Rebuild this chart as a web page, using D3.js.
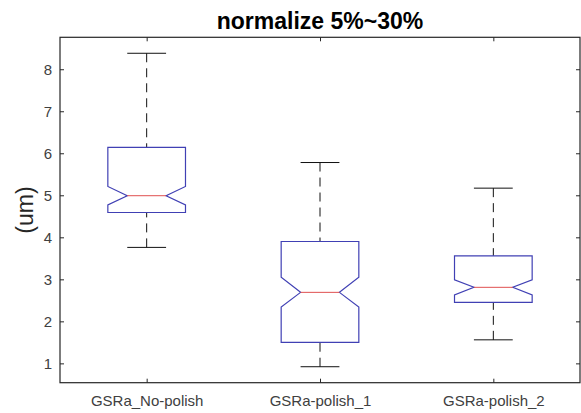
<!DOCTYPE html>
<html>
<head>
    <meta charset="UTF-8">
    <title>normalize 5%~30%</title>
    <script src="https://d3js.org/d3.v7.min.js"></script>
    <style>
        body { margin: 0; background: #fff; }
        text { font-family: "Liberation Sans", Arial, sans-serif; }
    </style>
</head>
<body>
    <svg id="chart"></svg>

    <script>
    // values
    const categories = ["GSRa_No-polish", "GSRa-polish_1", "GSRa-polish_2"];
    const whiskerLow  = [3.76, 0.92, 1.56];
    const q1          = [4.59, 1.50, 2.45];
    const notchLow    = [4.77, 2.34, 2.63];
    const medians     = [4.99, 2.69, 2.81];
    const notchHigh   = [5.21, 3.05, 2.99];
    const q3          = [6.14, 3.90, 3.56];
    const whiskerHigh = [8.38, 5.78, 5.17];
    const yTicks = [1, 2, 3, 4, 5, 6, 7, 8];

    const width = 581;
    const height = 413;
    const margins = {top: 37.3, bottom: 30.3, left: 60, right: 1};

    const svg = d3.select("#chart")
        .attr("width", width)
        .attr("height", height);

    const x_scale = d3.scalePoint()
        .domain(categories)
        .range([margins.left, width - margins.right])
        .padding(0.5);

    const y_scale = d3.scaleLinear()
        .domain([0.54, 8.76])
        .range([height - margins.bottom, margins.top]);

    const step = x_scale.step();
    const halfW = step * 0.224;   // half box width
    const axisColor = "#262626";

    const data = categories.map((c, i) => ({
        cat: c, lo: whiskerLow[i], q1: q1[i], nlo: notchLow[i], med: medians[i],
        nhi: notchHigh[i], q3: q3[i], hi: whiskerHigh[i]
    }));

    // axes with ticks pointing inward
    const leftAxis = svg.append("g")
        .attr("transform", `translate(${margins.left},0)`)
        .call(d3.axisLeft(y_scale).tickValues(yTicks).tickSize(-4).tickPadding(8));
    const rightAxis = svg.append("g")
        .attr("transform", `translate(${width - margins.right},0)`)
        .call(d3.axisRight(y_scale).tickValues(yTicks).tickSize(-4).tickFormat(""));
    const bottomAxis = svg.append("g")
        .attr("transform", `translate(0,${height - margins.bottom})`)
        .call(d3.axisBottom(x_scale).tickSize(-4).tickPadding(13));
    const topAxis = svg.append("g")
        .attr("transform", `translate(0,${margins.top})`)
        .call(d3.axisTop(x_scale).tickSize(-4).tickFormat(""));

    [leftAxis, rightAxis, bottomAxis, topAxis].forEach(g => {
        g.select(".domain").remove();
        g.selectAll(".tick line").attr("stroke", axisColor);
        g.selectAll(".tick text")
            .attr("fill", "#404040")
            .style("font-size", "15px")
            .style("font-family", "'Liberation Sans', Arial, sans-serif");
    });

    // frame
    svg.append("rect")
        .attr("x", margins.left)
        .attr("y", margins.top)
        .attr("width", width - margins.right - margins.left)
        .attr("height", height - margins.bottom - margins.top)
        .attr("fill", "none")
        .attr("stroke", axisColor)
        .attr("stroke-width", 1.2);

    const box = svg.append("g").selectAll("g")
        .data(data)
        .enter()
        .append("g");

    // dashed whiskers
    box.append("line")
        .attr("x1", d => x_scale(d.cat)).attr("x2", d => x_scale(d.cat))
        .attr("y1", d => y_scale(d.hi)).attr("y2", d => y_scale(d.q3))
        .attr("stroke", "#111").attr("stroke-dasharray", "9,6");
    box.append("line")
        .attr("x1", d => x_scale(d.cat)).attr("x2", d => x_scale(d.cat))
        .attr("y1", d => y_scale(d.lo)).attr("y2", d => y_scale(d.q1))
        .attr("stroke", "#111").attr("stroke-dasharray", "9,6");

    // whisker caps
    ["hi", "lo"].forEach(k => {
        box.append("line")
            .attr("x1", d => x_scale(d.cat) - halfW / 2)
            .attr("x2", d => x_scale(d.cat) + halfW / 2)
            .attr("y1", d => y_scale(d[k])).attr("y2", d => y_scale(d[k]))
            .attr("stroke", "#111");
    });

    // notched boxes
    box.append("path")
        .attr("d", d => {
            const c = x_scale(d.cat);
            const pts = [
                [c - halfW, y_scale(d.q3)], [c + halfW, y_scale(d.q3)],
                [c + halfW, y_scale(d.nhi)], [c + halfW / 2, y_scale(d.med)],
                [c + halfW, y_scale(d.nlo)], [c + halfW, y_scale(d.q1)],
                [c - halfW, y_scale(d.q1)], [c - halfW, y_scale(d.nlo)],
                [c - halfW / 2, y_scale(d.med)], [c - halfW, y_scale(d.nhi)]
            ];
            return "M" + pts.map(p => p.join(",")).join("L") + "Z";
        })
        .attr("fill", "none")
        .attr("stroke", "#4040b4")
        .attr("stroke-width", 1.2);

    // medians
    box.append("line")
        .attr("x1", d => x_scale(d.cat) - halfW / 2)
        .attr("x2", d => x_scale(d.cat) + halfW / 2)
        .attr("y1", d => y_scale(d.med)).attr("y2", d => y_scale(d.med))
        .attr("stroke", "#e05050");

    // title
    svg.append("text")
        .attr("x", (margins.left + width - margins.right) / 2)
        .attr("y", 29)
        .attr("text-anchor", "middle")
        .style("font-size", "23px")
        .style("font-weight", "bold")
        .attr("fill", "#000")
        .text("normalize 5%~30%");

    // y label
    svg.append("text")
        .attr("text-anchor", "middle")
        .attr("transform", `translate(33, ${(margins.top + height - margins.bottom) / 2})rotate(-90)`)
        .style("font-size", "23px")
        .attr("fill", axisColor)
        .text("(um)");
    </script>
</body>
</html>
